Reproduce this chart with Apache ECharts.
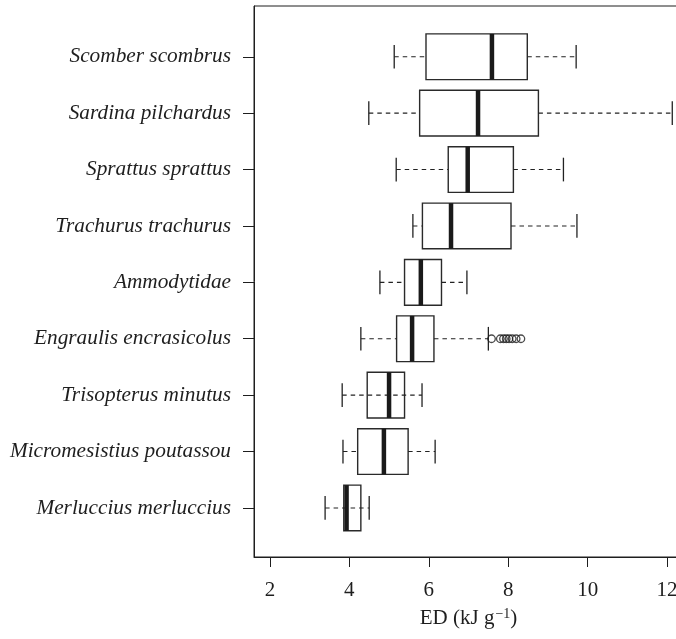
<!DOCTYPE html>
<html>
<head>
<meta charset="utf-8">
<script src="https://cdn.jsdelivr.net/npm/echarts@6/dist/echarts.min.js"></script>
<style>html,body{margin:0;padding:0;background:#fff;overflow:hidden;width:676px;height:639px;}#c{width:700px;height:639px;}</style>
</head>
<body>
<div id="c"></div>
<script>
// Categories, top to bottom
const species = [
  'Scomber scombrus', 'Sardina pilchardus', 'Sprattus sprattus', 'Trachurus trachurus',
  'Ammodytidae', 'Engraulis encrasicolus', 'Trisopterus minutus',
  'Micromesistius poutassou', 'Merluccius merluccius'
];
// Five-number summaries (ED, kJ g^-1)
const whiskerLow = [5.13, 4.49, 5.18, 5.60, 4.77, 4.29, 3.82, 3.84, 3.39];
const quartile1  = [5.93, 5.77, 6.49, 5.84, 5.39, 5.19, 4.45, 4.21, 3.86];
const medians    = [7.59, 7.24, 6.98, 6.56, 5.80, 5.58, 5.00, 4.87, 3.93];
const quartile3  = [8.48, 8.76, 8.13, 8.07, 6.32, 6.13, 5.39, 5.48, 4.29];
const whiskerHigh= [9.71, 12.13, 9.39, 9.73, 6.96, 7.50, 5.83, 6.16, 4.50];
// Outliers
const outlierSpecies = 'Engraulis encrasicolus';
const outlierValues = [7.58, 7.80, 7.88, 7.95, 8.02, 8.10, 8.20, 8.32];
// Axis ticks
const xTicks = [2, 4, 6, 8, 10, 12];

// style-only: rows whose dashed whisker is visible through the box
const throughBox = ['Trisopterus minutus', 'Merluccius merluccius'];

const boxData = species.map((s, i) => [i + 1, whiskerLow[i], quartile1[i], medians[i], quartile3[i], whiskerHigh[i]]);
const outPos = species.indexOf(outlierSpecies) + 1;
const outData = outlierValues.map(v => [v, outPos]);
const yPositions = species.map((s, i) => i + 1);

const FONT = '"Liberation Serif", "DejaVu Serif", serif';
const INK = '#1e1e1e';

const chart = echarts.init(document.getElementById('c'), null, {renderer: 'canvas'});
chart.setOption({
  animation: false,
  backgroundColor: '#fff',
  grid: {left: 254, top: 6, height: 551, width: 429, show: true, borderColor: INK, borderWidth: 1, backgroundColor: 'transparent'},
  xAxis: {
    type: 'value', min: 1.6, max: 12.4,
    axisLine: {show: true, lineStyle: {color: INK, width: 1}},
    axisTick: {show: true, inside: false, length: 10, lineStyle: {color: INK, width: 1}, customValues: xTicks},
    axisLabel: {show: true, margin: 23, color: INK, fontSize: 21, fontFamily: FONT, customValues: xTicks},
    splitLine: {show: false},
    name: '{a|ED (kJ g}{s|−1}{a|)}',
    nameLocation: 'middle',
    nameGap: 48,
    nameTextStyle: {
      rich: {
        a: {fontSize: 21, fontFamily: FONT, color: INK, lineHeight: 23, verticalAlign: 'bottom'},
        s: {fontSize: 14, fontFamily: FONT, color: INK, lineHeight: 23, verticalAlign: 'top', padding: [1, 0, 0, 1]}
      }
    }
  },
  yAxis: {
    type: 'value', min: 0.1, max: 9.87, inverse: true,
    axisLine: {show: true, lineStyle: {color: INK, width: 1}},
    axisTick: {show: true, inside: false, length: 11, lineStyle: {color: INK, width: 1}, customValues: yPositions},
    axisLabel: {
      show: true, margin: 23, color: INK, fontSize: 21.3, fontFamily: FONT, fontStyle: 'italic',
      customValues: yPositions,
      formatter: v => species[Math.round(v) - 1] || ''
    },
    splitLine: {show: false}
  },
  series: [
    {
      type: 'custom',
      coordinateSystem: 'cartesian2d',
      encode: {x: [1, 2, 3, 4, 5], y: 0},
      data: boxData,
      renderItem: function (params, api) {
        const pos = api.value(0);
        const lo = api.value(1), q1 = api.value(2), md = api.value(3), q3 = api.value(4), hi = api.value(5);
        const band = api.size([0, 1])[1];
        const cy = api.coord([md, pos])[1];
        const X = v => api.coord([v, pos])[0];
        const hb = band * 0.405, hc = band * 0.21;
        const name = species[pos - 1];
        const dash = {stroke: '#222', lineWidth: 1.1, lineDash: [4.5, 4]};
        const solid = {stroke: '#222', lineWidth: 1.3};
        const children = [];
        const through = throughBox.indexOf(name) >= 0;
        children.push({type: 'rect', shape: {x: X(q1), y: cy - hb, width: X(q3) - X(q1), height: 2 * hb}, style: {fill: '#fff', stroke: '#2a2a2a', lineWidth: 1.4}});
        if (through) {
          children.push({type: 'line', shape: {x1: X(lo), y1: cy, x2: X(hi), y2: cy}, style: dash});
        } else {
          children.push({type: 'line', shape: {x1: X(lo), y1: cy, x2: X(q1), y2: cy}, style: dash});
          children.push({type: 'line', shape: {x1: X(q3), y1: cy, x2: X(hi), y2: cy}, style: dash});
        }
        children.push({type: 'line', shape: {x1: X(lo), y1: cy - hc, x2: X(lo), y2: cy + hc}, style: solid});
        children.push({type: 'line', shape: {x1: X(hi), y1: cy - hc, x2: X(hi), y2: cy + hc}, style: solid});
        children.push({type: 'line', shape: {x1: X(md), y1: cy - hb, x2: X(md), y2: cy + hb}, style: {stroke: '#1a1a1a', lineWidth: 4.5}});
        return {type: 'group', children: children};
      }
    },
    {
      type: 'scatter',
      data: outData,
      symbol: 'circle',
      symbolSize: 7.5,
      itemStyle: {color: 'rgba(255,255,255,0)', borderColor: '#1e1e1e', borderWidth: 1.3},
      z: 3
    }
  ]
});
</script>
</body>
</html>
